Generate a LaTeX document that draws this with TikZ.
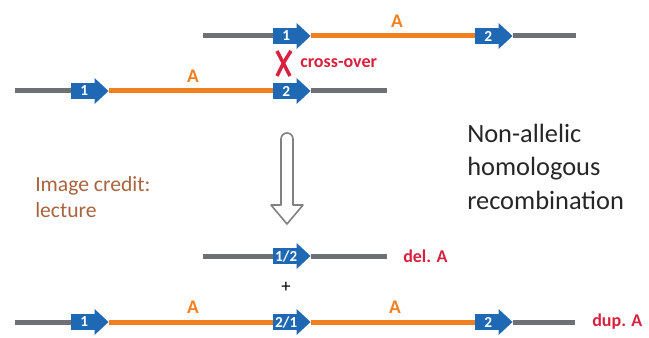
\documentclass[tikz,border=0pt]{standalone}
\usepackage{fontspec}
\setmainfont{Carlito}
\usetikzlibrary{backgrounds}
\newlength\px
\setlength\px{0.75pt}
\definecolor{geneblue}{HTML}{1F68B3}
\definecolor{segorange}{HTML}{F28021}
\definecolor{chromgray}{HTML}{6F7073}
\definecolor{labelred}{HTML}{D8213F}
\definecolor{creditbrown}{HTML}{A9633E}
\definecolor{arrowgray}{HTML}{808080}

% gene marker: blue box with an arrow head on its right; (<name>-tip) is the point of the head
\newcommand{\genemark}[4]{%
  \node[gene] (#1) at (#2,#3) {#4};
  \fill[geneblue] ([xshift=-3\px,yshift=13\px]#1.east) -- ([xshift=11\px]#1.east)
    -- ([xshift=-3\px,yshift=-13\px]#1.east) -- cycle;
  \coordinate (#1-tip) at ([xshift=11\px]#1.east);
}

\begin{document}
\begin{tikzpicture}[x=0.75pt,y=-0.75pt,
  gene/.style={fill=geneblue,text=white,font=\bfseries\fontsize{11.5}{11.5}\selectfont,
    minimum width=26\px,minimum height=16\px,inner sep=0pt,anchor=west},
  chrom/.style={draw=chromgray,line width=5\px},
  seg/.style={draw=segorange,line width=5\px},
  seglabel/.style={text=segorange,font=\bfseries\fontsize{14.5}{14.5}\selectfont,inner sep=0pt},
  redlabel/.style={text=labelred,font=\bfseries\fontsize{13.5}{13.5}\selectfont,inner sep=0pt,anchor=west},
  bigtext/.style={font=\fontsize{19.8}{25.5}\selectfont,text=black!85,align=left,inner sep=0pt,anchor=base west},
  credit/.style={font=\fontsize{16.2}{19.5}\selectfont,text=creditbrown,align=left,inner sep=0pt,anchor=base west}]
\useasboundingbox (0,0) rectangle (649,338);

% ---- row 1: upper chromosome ----
\coordinate (c1L) at (203,36);
\coordinate (c1R) at (576,36);
\begin{scope}[on background layer]
  \draw[chrom] (c1L) -- (273,36);
\end{scope}
\genemark{r1a}{273}{36}{1}
\genemark{r1b}{475}{36}{2}
\begin{scope}[on background layer]
  \draw[seg] (r1a-tip) -- (r1b.west);
  \draw[chrom] (r1b-tip) -- (c1R);
\end{scope}
\node[seglabel] (r1A) at (397,21) {A};

% ---- cross-over mark ----
\draw[labelred,line width=3.5\px] (277,51) -- (290,76);
\draw[labelred,line width=3.5\px] (291,51) .. controls (285,60) .. (277,76);
\node[redlabel] (xo) at (300,63) {cross-over};

% ---- row 2: lower chromosome ----
\coordinate (c2L) at (15,91);
\coordinate (c2R) at (387,91);
\begin{scope}[on background layer]
  \draw[chrom] (c2L) -- (71,91);
\end{scope}
\genemark{r2a}{71}{91}{1}
\genemark{r2b}{273}{91}{2}
\begin{scope}[on background layer]
  \draw[seg] (r2a-tip) -- (r2b.west);
  \draw[chrom] (r2b-tip) -- (c2R);
\end{scope}
\node[seglabel] (r2A) at (193,76) {A};

% ---- hollow down arrow ----
\draw[arrowgray,line width=1.6\px,line join=round]
  (281,205) -- (281,139) arc[start angle=180,end angle=360,radius=6] -- (293,205)
  -- (303,205) -- (287,224) -- (271,205) -- cycle;

% ---- side texts (anchored at the baseline of their last line) ----
\node[bigtext] (nahr) at (467,210) {Non-allelic\\homologous\\recombination};
\node[credit] (cred) at (35,218) {Image credit:\\lecture};

% ---- row 3: deletion product ----
\coordinate (c3L) at (203,256);
\coordinate (c3R) at (387,256);
\begin{scope}[on background layer]
  \draw[chrom] (c3L) -- (273,256);
\end{scope}
\genemark{r3a}{273}{256}{1/2}
\begin{scope}[on background layer]
  \draw[chrom] (r3a-tip) -- (c3R);
\end{scope}
\node[redlabel] (del) at (403,256) {del. A};

\node[font=\fontsize{14}{14}\selectfont,inner sep=0pt] (plus) at (286,287) {+};

% ---- row 4: duplication product ----
\coordinate (c4L) at (15,322);
\coordinate (c4R) at (575,322);
\begin{scope}[on background layer]
  \draw[chrom] (c4L) -- (71,322);
\end{scope}
\genemark{r4a}{71}{322}{1}
\genemark{r4b}{273}{322}{2/1}
\genemark{r4c}{475}{322}{2}
\begin{scope}[on background layer]
  \draw[seg] (r4a-tip) -- (r4b.west);
  \draw[seg] (r4b-tip) -- (r4c.west);
  \draw[chrom] (r4c-tip) -- (c4R);
\end{scope}
\node[seglabel] (r4A1) at (193,307) {A};
\node[seglabel] (r4A2) at (395,307) {A};
\node[redlabel] (dup) at (592,322) {dup. A};
\end{tikzpicture}
\end{document}
